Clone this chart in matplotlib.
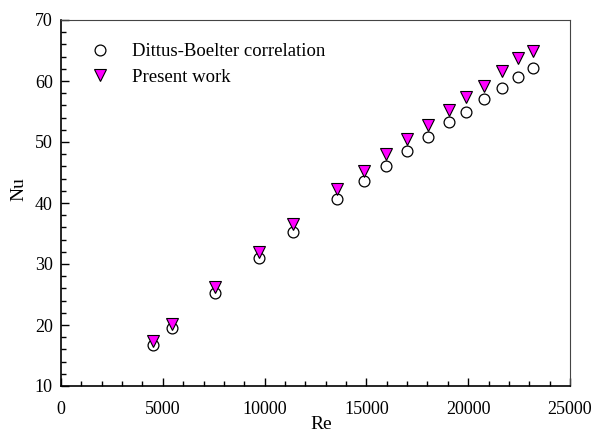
import numpy as np
import matplotlib.pyplot as plt
from matplotlib.ticker import MultipleLocator

plt.rcParams['font.family'] = ['Liberation Serif', 'DejaVu Serif']
plt.rcParams['font.size'] = 13

# Reynolds numbers and Nusselt numbers
re = [4520, 5450, 7560, 9720, 11400, 13550, 14880, 15960, 17000, 18030,
      19060, 19900, 20780, 21660, 22450, 23180]
nu_db = [16.8, 19.5, 25.2, 31.0, 35.2, 40.6, 43.6, 46.1, 48.6, 50.8,
         53.2, 55.0, 57.0, 58.8, 60.6, 62.2]
nu_present = [17.3, 20.1, 26.2, 32.0, 36.6, 42.3, 45.3, 48.1, 50.5, 52.8,
              55.3, 57.3, 59.1, 61.6, 63.8, 65.0]

fig = plt.figure(figsize=(5.95, 4.32), dpi=100)
ax = fig.add_axes([61/595, 1-386/432, (570-61)/595, (386-20)/432])

ax.plot(re, nu_db, 'o', ms=7.8, mfc='white', mec='black', mew=0.9,
        label='Dittus-Boelter correlation', zorder=3)
ax.plot(re, nu_present, 'v', ms=8.8, mfc='magenta', mec='black', mew=0.8,
        label='Present work', zorder=4)

ax.set_xlim(0, 25000)
ax.set_ylim(10, 70)
ax.xaxis.set_major_locator(MultipleLocator(5000))
ax.xaxis.set_minor_locator(MultipleLocator(1000))
ax.yaxis.set_major_locator(MultipleLocator(10))
ax.yaxis.set_minor_locator(MultipleLocator(2))
ax.tick_params(which='both', direction='in', top=False, right=False)
ax.tick_params(which='major', length=6, width=1)
ax.tick_params(which='minor', length=3.5, width=1)
ax.tick_params(axis='x', which='major', pad=11)
ax.tick_params(axis='y', which='major', pad=6)
for s in ['left', 'bottom']:
    ax.spines[s].set_linewidth(1.2)
for s in ['top', 'right']:
    ax.spines[s].set_linewidth(0.8)
    ax.spines[s].set_color('#444444')

ax.set_xlabel('Re', fontsize=14)
ax.set_ylabel('Nu', fontsize=14)
ax.xaxis.set_label_coords(0.511, -0.083)
ax.yaxis.set_label_coords(-0.067, 0.538)

ax.legend(loc='upper left', bbox_to_anchor=(0.006, 0.983), frameon=False,
          handletextpad=0.73, labelspacing=0.46, fontsize=13.5)

fig.savefig('out.png', dpi=100)
